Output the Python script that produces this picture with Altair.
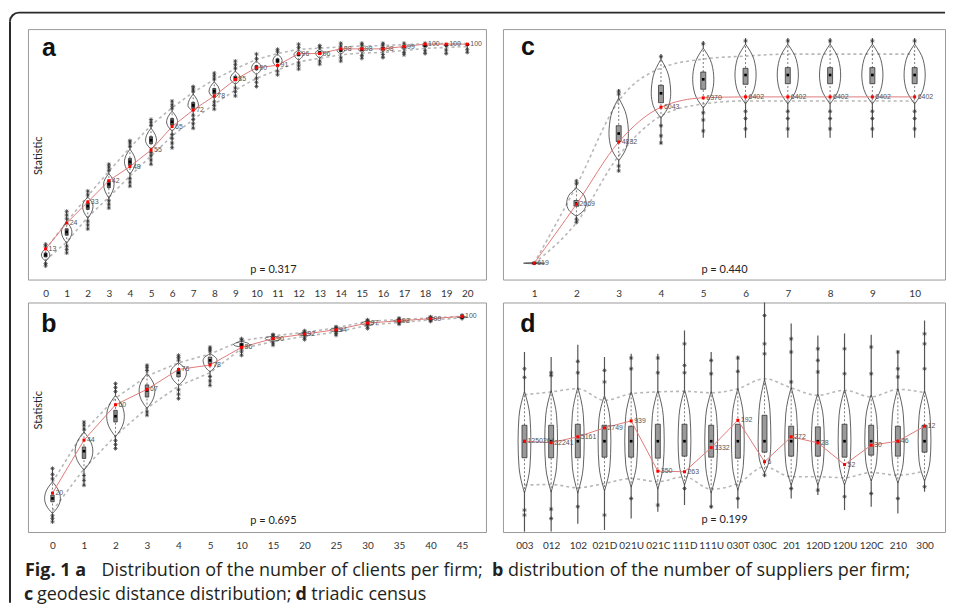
import altair as alt
import pandas as pd

# ---------------- Panel a : clients per firm ----------------
A_CATS = [str(i) for i in range(21)]
A_OBS = [13, 24, 33, 42, 48, 55, 65, 72, 78, 85, 90, 91, 96, 96, 98, 98, 98, 99, 100, 100, 100]
A_MED = [10.4, 20.2, 31.2, 40.5, 50.0, 59.2, 67.0, 74.0, 80.0, 85.4, 90.0, 93.0, 95.7, 96.3, 97.4, 97.8, 98.0, 98.8, 99.4, 99.6, 99.8]
A_Q1 = [9.6, 18.8, 29.8, 39.0, 48.5, 57.7, 65.6, 72.7, 78.8, 84.4, 89.1, 92.2, 95.0, 95.7, 96.9, 97.3, 97.6, 98.4, 99.1, 99.3, 99.6]
A_Q3 = [11.3, 21.6, 32.6, 42.0, 51.5, 60.7, 68.4, 75.3, 81.2, 86.4, 90.9, 93.8, 96.3, 96.9, 97.9, 98.3, 98.5, 99.2, 99.7, 99.8, 100.0]
A_LO = [8.2, 16.0, 26.5, 35.0, 44.0, 52.5, 61.0, 68.0, 74.5, 80.5, 85.5, 89.0, 92.5, 94.0, 95.5, 96.2, 96.5, 97.3, 98.2, 98.6, 99.0]
A_HI = [12.8, 24.5, 35.5, 46.0, 56.0, 65.5, 73.0, 79.5, 85.0, 89.5, 93.5, 96.0, 97.8, 98.3, 98.8, 99.2, 99.4, 99.8, 100.2, 100.3, 100.3]
A_VLO = [7.8, 15.5, 26.0, 34.6, 44.8, 55.4, 63.0, 71.5, 77.0, 83.0, 87.0, 90.0, 93.2, 94.0, 95.8, 96.5, 96.8, 97.5, 98.3, 98.8, 99.2]
A_VHI = [13.2, 24.5, 35.0, 45.0, 55.4, 64.3, 71.5, 78.8, 84.0, 88.5, 92.8, 95.8, 97.4, 97.8, 98.3, 98.7, 98.8, 99.6, 100.0, 100.0, 100.0]
A_VW = [0.2, 0.25, 0.25, 0.25, 0.26, 0.26, 0.26, 0.25, 0.25, 0.24, 0.23, 0.22, 0.22, 0.2, 0.18, 0.16, 0.15, 0.14, 0.12, 0.1, 0.1]
A_OMIN = [5.8, 11.3, 21.5, 30.4, 39.7, 49.0, 56.0, 64.3, 72.4, 78.0, 82.0, 87.0, 89.4, 91.5, 92.8, 94.0, 94.3, 95.5, 96.0, 96.0, 96.5]
A_OMAX = [15.0, 29.0, 37.6, 49.0, 59.0, 68.0, 75.8, 82.0, 87.7, 92.8, 95.8, 97.8, 100.0, 99.4, 100.4, 100.4, 100.4, 100.4, 100.4, 100.0, 100.0]
A_OUT = [
    [5.8, 6.8, 14.2, 15.0],
    [11.3, 12.8, 14.2, 25.8, 27.4, 29.0],
    [21.5, 23.2, 24.8, 36.0, 37.6],
    [30.4, 32.0, 33.5, 46.4, 47.8, 49.0],
    [39.7, 41.4, 43.0, 56.6, 58.0, 59.0],
    [49.0, 50.8, 52.6, 54.0, 65.5, 66.8, 68.0],
    [56.0, 58.0, 60.0, 61.6, 72.8, 74.2, 75.8],
    [64.3, 66.2, 68.0, 69.8, 80.0, 81.0, 82.0],
    [72.4, 74.0, 75.5, 85.2, 86.5, 87.7],
    [78.0, 79.8, 81.4, 89.8, 91.3, 92.8],
    [82.0, 83.8, 85.5, 93.8, 95.8],
    [87.0, 88.5, 96.8, 97.8],
    [89.4, 90.8, 92.0, 98.6, 100.0],
    [91.5, 92.8, 98.6, 99.4],
    [92.8, 94.2, 99.2, 100.4],
    [94.0, 95.2, 99.6, 100.4],
    [94.3, 95.6, 99.6, 100.4],
    [95.5, 96.5, 100.4],
    [96.0, 97.2, 100.4],
    [96.0, 97.5],
    [96.5, 97.8],
]

# ---------------- Panel b : suppliers per firm ----------------
B_CATS = ["0", "1", "2", "3", "4", "5", "10", "15", "20", "25", "30", "35", "40", "45"]
B_OBS = [20, 44, 60, 67, 76, 78, 86, 90, 92, 94, 97, 98, 99, 100]
B_MED = [17.6, 39.0, 54.8, 66.5, 74.5, 80.1, 87.2, 90.0, 92.0, 93.8, 96.8, 98.0, 99.0, 99.6]
B_Q1 = [16.1, 35.7, 52.2, 63.5, 72.6, 78.6, 86.4, 89.4, 91.5, 93.3, 96.3, 97.6, 98.7, 99.4]
B_Q3 = [19.1, 40.9, 57.5, 69.0, 75.6, 81.6, 87.8, 90.6, 92.5, 94.3, 97.3, 98.4, 99.3, 99.8]
B_LO = [12.0, 31.0, 46.0, 58.5, 68.5, 74.5, 85.5, 88.6, 91.0, 92.9, 95.9, 97.3, 98.4, 99.3]
B_HI = [25.0, 48.0, 63.0, 73.0, 79.0, 83.0, 89.0, 91.2, 92.8, 94.8, 97.8, 98.6, 99.3, 100.0]
B_VLO = [10.8, 30.4, 45.5, 58.3, 68.8, 74.8, 86.1, 88.7, 91.1, 92.9, 95.9, 97.4, 98.5, 99.4]
B_VHI = [25.1, 47.7, 64.3, 74.1, 79.0, 83.1, 88.7, 91.1, 92.6, 94.7, 97.9, 98.5, 99.4, 100.1]
B_VW = [0.25, 0.28, 0.28, 0.25, 0.25, 0.22, 0.25, 0.25, 0.2, 0.2, 0.2, 0.18, 0.15, 0.15]
B_OMIN = [7.0, 23.6, 40.2, 55.3, 62.8, 68.8, 82.4, 87.0, 89.5, 91.5, 94.5, 96.5, 97.8, 99.0]
B_OMAX = [31.2, 52.2, 69.6, 77.9, 82.4, 86.1, 89.9, 91.8, 93.5, 95.3, 98.4, 99.2, 99.8, 100.5]
B_OUT = [
    [7.0, 8.5, 9.8, 26.5, 28.5, 31.2],
    [23.6, 25.8, 28.0, 49.0, 50.8, 52.2],
    [40.2, 42.0, 43.8, 66.0, 67.8, 69.6],
    [55.3, 56.8, 75.5, 76.8, 77.9],
    [62.8, 64.8, 66.8, 80.2, 81.4, 82.4],
    [68.8, 70.8, 72.8, 84.3, 85.2, 86.1],
    [82.4, 84.0, 85.2, 89.3, 89.9],
    [87.0, 88.0, 91.5, 91.8],
    [89.5, 90.4, 93.0, 93.5],
    [91.5, 92.3, 95.0, 95.3],
    [94.5, 95.3, 98.2, 98.4],
    [96.5, 97.0, 98.8, 99.2],
    [97.8, 98.2, 99.6, 99.8],
    [99.0, 100.3, 100.5],
]

# ---------------- Panel c : geodesic distances ----------------
C_CATS = [str(i) for i in range(1, 11)]
C_OBS = [619, 2669, 4832, 6043, 6370, 6402, 6402, 6402, 6402, 6402]
C_MED = [619, 2700, 5127, 6527, 7013, 7163, 7163, 7163, 7163, 7163]
C_Q1 = [619, 2600, 4850, 6200, 6667, 6840, 6860, 6860, 6860, 6860]
C_Q3 = [619, 2800, 5400, 6805, 7267, 7395, 7420, 7420, 7420, 7420]
C_LO = [619, 2029, 4353, 5740, 6157, 6261, 6261, 6261, 6261, 6261]
C_HI = [619, 3312, 6261, 7405, 7717, 7821, 7891, 7891, 7891, 7891]
C_VLO = [600, 2250, 4180, 5670, 6018, 6157, 6157, 6157, 6157, 6157]
C_VHI = [640, 3230, 6365, 7717, 8100, 8238, 8238, 8238, 8238, 8238]
C_VW = [0.25, 0.23, 0.23, 0.23, 0.25, 0.25, 0.25, 0.25, 0.25, 0.25]
C_OMIN = [619, 2040, 3830, 4770, 4978, 4978, 4978, 4978, 4978, 4978]
C_OMAX = [619, 3480, 6675, 7890, 8342, 8446, 8446, 8446, 8446, 8446]
C_OUT = [
    [619],
    [2040, 2150, 3380, 3480],
    [3830, 4000, 6500, 6600],
    [4800, 5047, 5400, 7800],
    [5220, 5600, 5850, 8250],
    [5290, 5650, 5900, 8350],
    [5290, 5650, 5900, 8350],
    [5290, 5650, 5900, 8350],
    [5290, 5650, 5900, 8350],
    [5290, 5650, 5900, 8350],
]

# ---------------- Panel d : triadic census (standardised) ----------------
D_CATS = ["003", "012", "102", "021D", "021U", "021C", "111D", "111U",
          "030T", "030C", "201", "120D", "120U", "120C", "210", "300"]
D_OBS = [0.0, -0.07, 0.22, 0.67, 1.02, -1.5, -1.53, -0.32, 1.05, -1.03, 0.22, -0.08, -1.17, -0.2, 0.0, 0.75]
D_TXT = ["1250264", "22241", "5161", "2749", "939", "350", "263", "1332",
         "192", "6", "272", "28", "52", "30", "46", "12"]
D_MED = [0.0, 0.0, 0.0, 0.0, 0.0, 0.0, 0.0, 0.0, 0.0, 0.0, 0.0, 0.0, 0.0, 0.0, 0.0, 0.0]
D_Q1 = [-0.83, -0.83, -0.83, -0.8, -0.8, -0.85, -0.75, -0.8, -0.85, -0.55, -0.75, -0.75, -0.8, -0.7, -0.75, -0.55]
D_Q3 = [0.8, 0.8, 0.85, 0.8, 0.75, 0.85, 0.85, 0.8, 0.85, 1.3, 0.75, 0.72, 0.85, 0.8, 0.75, 0.8]
D_LO = [-2.2, -2.17, -2.33, -2.12, -1.87, -2.03, -1.78, -2.4, -2.12, -1.28, -1.78, -1.78, -1.83, -1.57, -1.7, -1.5]
D_HI = [2.33, 2.47, 2.63, 2.05, 2.38, 2.47, 2.5, 2.43, 2.63, 3.13, 2.67, 2.3, 2.55, 2.22, 2.6, 2.43]
D_VLO = [-2.6, -2.55, -2.6, -2.5, -2.3, -2.4, -2.2, -2.6, -2.45, -1.6, -2.2, -2.2, -2.2, -2.0, -2.1, -2.0]
D_VHI = [2.5, 2.55, 2.7, 2.3, 2.5, 2.55, 2.6, 2.5, 2.65, 3.1, 2.7, 2.4, 2.6, 2.35, 2.65, 2.55]
D_VW = [0.24, 0.24, 0.24, 0.24, 0.24, 0.24, 0.24, 0.24, 0.24, 0.24, 0.24, 0.24, 0.24, 0.24, 0.24, 0.24]
D_OMIN = [-4.53, -4.53, -4.13, -4.45, -3.87, -3.53, -3.2, -3.37, -3.37, -1.78, -2.87, -2.7, -3.45, -3.28, -3.62, -2.53]
D_OMAX = [4.47, 4.22, 4.83, 4.22, 4.38, 4.38, 5.55, 4.47, 4.3, 6.95, 5.9, 5.3, 5.4, 5.33, 4.55, 6.05]
D_OUT = [
    [3.63, 3.2, -3.45, -3.7],
    [3.43, 3.3, -3.4, -3.87],
    [4.0, 3.43, -3.28],
    [3.55, 2.97, -3.7],
    [4.17, 3.63, -2.87],
    [4.17, 3.43, -3.2],
    [4.88, 3.8, 3.43, -2.37],
    [4.05, 3.38, -3.28],
    [4.17, 3.5, -2.87],
    [6.3, 4.88, 4.38, -1.7],
    [5.13, 4.47, 2.97, -2.37],
    [4.63, 4.05, 3.47, -2.45],
    [4.63, 3.38, -2.78],
    [4.72, 3.38, -2.62],
    [4.47, 3.63, 3.22, -2.87],
    [5.38, 4.88, 3.63, -2.28],
]

# ---------------- caption (figure legend) ----------------
CAP_RUNS = [
    ("Fig. 1 a", "bold", -3, 274.5),
    ("Distribution of the number of clients per firm;", "normal", 73.7, 274.5),
    ("b", "bold", 465, 274.5),
    ("distribution of the number of suppliers per firm;", "normal", 481, 274.5),
    ("c", "bold", -4, 298.5),
    ("geodesic distance distribution;", "normal", 9, 298.5),
    ("d", "bold", 268, 298.5),
    ("triadic census", "normal", 284, 298.5),
]

ASTERISK = "M-1,0L1,0M0,-1L0,1M-0.7,-0.7L0.7,0.7M-0.7,0.7L0.7,-0.7"
ONE = pd.DataFrame({"k": [0]})


def panel(cats, obs, txt, med, q1, q3, lo, hi, vlo, vhi, vw, omin, omax, outs,
          xdom, ydom, width, height, letter, letter_xy, ptext, p_xy,
          stat_xy=None, shoulder=0.75, box_size=4, box_fill="#999",
          red_curve="linear", dash_curve="linear", label_pad=4, extra=None):
    n = len(cats)
    df = pd.DataFrame(dict(idx=list(range(n)), obs=obs, txt=txt, med=med, q1=q1, q3=q3,
                           lo=lo, hi=hi, vlo=vlo, vhi=vhi, omin=omin, omax=omax))
    vrows = []
    for i in range(n):
        pts = [(vlo[i], 0.0), ((vlo[i] + med[i]) / 2, shoulder), (med[i], 1.0),
               ((med[i] + vhi[i]) / 2, shoulder), (vhi[i], 0.0)]
        for v, r in pts:
            vrows.append(dict(idx=i, v=v, xl=i - r * vw[i], xr=i + r * vw[i]))
    vdf = pd.DataFrame(vrows)
    odf = pd.DataFrame([dict(idx=i, v=v) for i, vals in enumerate(outs) for v in vals])

    xs = alt.Scale(domain=xdom, nice=False, zero=False)
    ys = alt.Scale(domain=ydom, nice=False, zero=False)
    lab_expr = "[" + ",".join("'%s'" % c for c in cats) + "][datum.value]"
    axis = alt.Axis(values=list(range(n)), labelExpr=lab_expr, domain=False, ticks=False,
                    grid=False, labelPadding=label_pad, labelFontSize=10, labelColor="#333",
                    labelFont="Lato", labelOverlap=False, labelBound=False, labelFlush=False)

    def X(f):
        return alt.X(f + ":Q", scale=xs, axis=axis, title=None)

    def Y(f):
        return alt.Y(f + ":Q", scale=ys, axis=None, title=None)

    base = alt.Chart(df)
    layers = [
        base.mark_line(color="#b8b8b8", strokeWidth=1.6, strokeDash=[3, 3], interpolate=dash_curve)
            .encode(x=X("idx"), y=Y("lo")),
        base.mark_line(color="#b8b8b8", strokeWidth=1.6, strokeDash=[3, 3], interpolate=dash_curve)
            .encode(x=X("idx"), y=Y("hi")),
        alt.Chart(vdf).mark_area(orient="horizontal", interpolate="monotone", fillOpacity=0,
                                 stroke="#3a3a3a", strokeWidth=0.8)
            .encode(y=Y("v"), x=X("xl"), x2="xr", detail="idx:N"),
        base.mark_rule(color="#444", strokeWidth=0.7, strokeDash=[2, 2])
            .encode(x=X("idx"), y=Y("vlo"), y2="vhi"),
        base.mark_rule(color="#555", strokeWidth=1.2).encode(x=X("idx"), y=Y("vhi"), y2="omax"),
        base.mark_rule(color="#555", strokeWidth=1.2).encode(x=X("idx"), y=Y("omin"), y2="vlo"),
        alt.Chart(odf).mark_point(shape=ASTERISK, size=18, strokeWidth=0.7, color="#333", opacity=1)
            .encode(x=X("idx"), y=Y("v")),
        base.mark_bar(size=box_size, fill=box_fill, stroke="#222", strokeWidth=0.7)
            .encode(x=X("idx"), y=Y("q1"), y2="q3"),
        base.mark_square(size=7, color="black", opacity=1).encode(x=X("idx"), y=Y("med")),
        base.mark_line(color="#e07a7a", strokeWidth=1, interpolate=red_curve)
            .encode(x=X("idx"), y=Y("obs")),
        base.mark_square(size=9, color="#ff0000", opacity=1).encode(x=X("idx"), y=Y("obs")),
        base.mark_text(align="left", baseline="middle", dx=3, fontSize=7, color="#555",
                       font="Liberation Sans").encode(x=X("idx"), y=Y("obs"), text="txt:N"),
        alt.Chart(ONE).mark_text(text=letter, font="Liberation Sans", fontWeight="bold", fontSize=25,
                                 align="center", baseline="alphabetic", color="#111")
            .encode(x=alt.value(letter_xy[0]), y=alt.value(letter_xy[1])),
        alt.Chart(ONE).mark_text(text=ptext, font="Lato", fontSize=11, align="center",
                                 baseline="alphabetic", color="#222")
            .encode(x=alt.value(p_xy[0]), y=alt.value(p_xy[1])),
    ]
    if stat_xy is not None:
        layers.append(alt.Chart(ONE).mark_text(text="Statistic", font="Lato", fontSize=11, angle=270,
                                               align="center", baseline="middle", color="#222")
                      .encode(x=alt.value(stat_xy[0]), y=alt.value(stat_xy[1])))
    if extra:
        layers += extra
    return alt.layer(*layers).properties(
        width=width, height=height,
        view=alt.ViewBackground(stroke="#9a9a9a", strokeWidth=1))


# caption runs and the rounded frame are drawn from panel b's layer (relative to its view)
frame_col = "#2a2a2a"
cap_layers = []
for t, w, x, y in CAP_RUNS:
    cap_layers.append(alt.Chart(ONE).mark_text(text=t, font="Open Sans", fontSize=18, fontWeight=w,
                                               align="left", baseline="alphabetic", color="#231f20")
                      .encode(x=alt.value(x), y=alt.value(y)))
cap_layers += [
    alt.Chart(ONE).mark_rule(color=frame_col, strokeWidth=2)
        .encode(x=alt.value(-9), x2=alt.value(919), y=alt.value(-290.5)),
    alt.Chart(ONE).mark_rule(color=frame_col, strokeWidth=2)
        .encode(x=alt.value(-18), y=alt.value(-281.5), y2=alt.value(301)),
    alt.Chart(ONE).mark_arc(theta=4.7124, theta2=6.2832, innerRadius=8, outerRadius=10, color=frame_col)
        .encode(x=alt.value(-9), y=alt.value(-281.5)),
]

pa = panel(A_CATS, A_OBS, [str(v) for v in A_OBS], A_MED, A_Q1, A_Q3, A_LO, A_HI, A_VLO, A_VHI,
           A_VW, A_OMIN, A_OMAX, A_OUT, [-0.6, 20.65], [0, 106.4], 459, 251,
           "a", (21, 27), "p = 0.317", (246, 244), stat_xy=(11, 127),
           shoulder=0.72, box_size=3, box_fill="#555", label_pad=9)
pc = panel(C_CATS, C_OBS, [str(v) for v in C_OBS], C_MED, C_Q1, C_Q3, C_LO, C_HI, C_VLO, C_VHI,
           C_VW, C_OMIN, C_OMAX, C_OUT, [-0.62, 9.6], [50, 8760], 443, 251,
           "c", (25, 26), "p = 0.440", (222, 244),
           shoulder=0.8, box_size=5, box_fill="#9a9a9a",
           red_curve="monotone", dash_curve="monotone", label_pad=9)
pb = panel(B_CATS, B_OBS, [str(v) for v in B_OBS], B_MED, B_Q1, B_Q3, B_LO, B_HI, B_VLO, B_VHI,
           B_VW, B_OMIN, B_OMAX, B_OUT, [-0.62, 13.6], [2.4, 106.3], 459, 230,
           "b", (21, 30), "p = 0.695", (246, 222), stat_xy=(11, 108),
           shoulder=0.75, box_size=3.5, box_fill="#888", label_pad=9, extra=cap_layers)
pd_ = panel(D_CATS, D_OBS, D_TXT, D_MED, D_Q1, D_Q3, D_LO, D_HI, D_VLO, D_VHI,
            D_VW, D_OMIN, D_OMAX, D_OUT, [-0.62, 15.58], [-4.55, 6.95], 443, 230,
            "d", (25, 30), "p = 0.199", (222, 221),
            shoulder=0.85, box_size=5, box_fill="#9a9a9a",
            dash_curve="monotone", label_pad=9)

chart = alt.concat(pa, pc, pb, pd_, columns=2, spacing={"row": 23, "column": 17},
                   bounds="flush").properties(
    padding={"left": 0, "top": 2.5, "right": 0, "bottom": 0}
).configure_view(stroke=None).configure(background="white")

chart.save("out.html", embed_options={"renderer": "svg", "actions": False})
